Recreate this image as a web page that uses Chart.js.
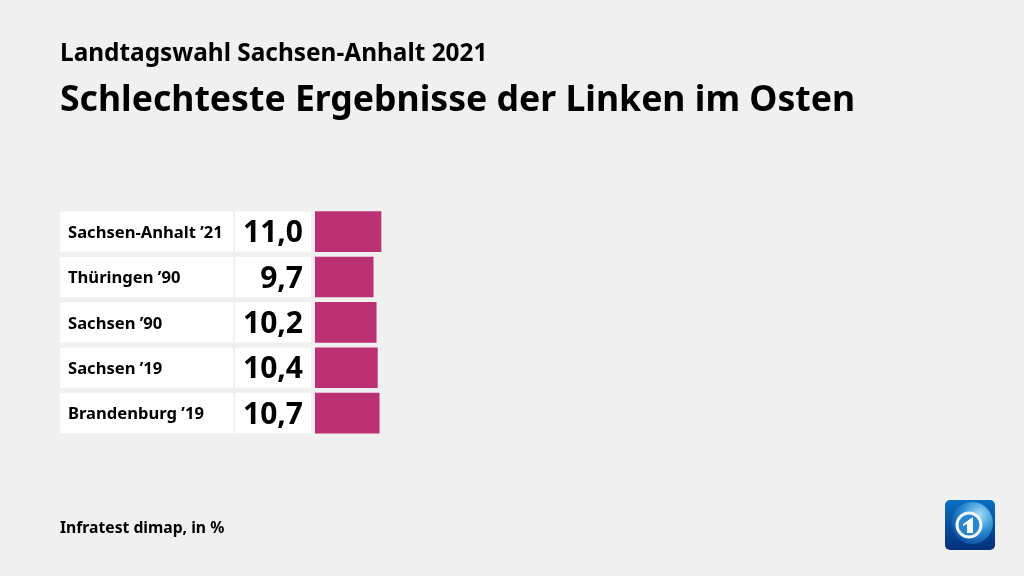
<!DOCTYPE html>
<html><head><meta charset="utf-8">
<style>html,body{margin:0;padding:0;background:#f0f0f0;width:1024px;height:576px;overflow:hidden}
#w{position:absolute;left:0;top:0;width:1024px;height:576px}
#logo{position:absolute;left:945px;top:500px;width:50px;height:50px}</style>
<script src="https://cdn.jsdelivr.net/npm/chart.js@4"></script></head>
<body><div id="w"><canvas id="c" width="1024" height="576"></canvas></div>
<svg id="logo" viewBox="0 0 50 50" aria-hidden="true">
<defs><linearGradient id="bg" x1="0" y1="0" x2="0" y2="1"><stop offset="0" stop-color="#0a6fc4"/><stop offset="1" stop-color="#052f78"/></linearGradient>
<radialGradient id="gl" cx=".68" cy=".3" r=".8"><stop offset="0" stop-color="#a5dcf6"/><stop offset=".5" stop-color="#2a8ed4"/><stop offset="1" stop-color="#0a4a9a"/></radialGradient></defs>
<rect width="50" height="50" rx="5" fill="url(#bg)"/><circle cx="27" cy="23" r="21" fill="url(#gl)"/>
<circle cx="24" cy="25" r="12" fill="#2a86cc" stroke="#f2f7fb" stroke-width="3"/>
<path d="M18 24l10-7v16h-6v-9l-4 2z" fill="#f2f7fb"/></svg>
<script>
const categories=["Sachsen-Anhalt ’21","Thüringen ’90","Sachsen ’90","Sachsen ’19","Brandenburg ’19"];
const values=[11.0,9.7,10.2,10.4,10.7];
const valueLabels=["11,0","9,7","10,2","10,4","10,7"];
const kicker="Landtagswahl Sachsen-Anhalt 2021";
const headline="Schlechteste Ergebnisse der Linken im Osten";
const source="Infratest dimap, in %";
const F="'Noto Sans'";
const rows={id:'rows',
 afterLayout(ch){ch.scales.y.left=68;},
 beforeDraw(ch){const c=ch.ctx,y=ch.scales.y;c.save();c.fillStyle='#fff';
  categories.forEach((_,i)=>{const p=y.getPixelForValue(i);c.fillRect(60,p-20,173,40);c.fillRect(235,p-20,76,40);});c.restore();
  y.getLabelItems(ch.chartArea).forEach(it=>{if(!it.moved){it.options.translation[1]+=1.5;it.moved=true;}});},
 afterDatasetsDraw(ch){const c=ch.ctx,y=ch.scales.y;c.save();c.fillStyle='#000';c.textAlign='right';c.textBaseline='middle';c.font="bold 30px "+F;
  valueLabels.forEach((t,i)=>c.fillText(t,303,y.getPixelForValue(i)+2));
  c.textAlign='left';c.font="bold 15.7px "+F;c.fillText(source,60,529);c.restore();}};
new Chart(document.getElementById('c'),{type:'bar',plugins:[rows],
 data:{labels:categories,datasets:[{data:values,backgroundColor:'#bc3173',barThickness:40}]},
 options:{indexAxis:'y',responsive:false,animation:false,
  layout:{padding:{left:60,right:49,top:0,bottom:140.2}},
  plugins:{legend:{display:false},tooltip:{enabled:false},
   title:{display:true,text:kicker,align:'start',color:'#000',font:{family:F,size:24.4,weight:'bold'},padding:{top:39,bottom:0}},
   subtitle:{display:true,text:headline,align:'start',color:'#000',font:{family:F,size:35.6,weight:'bold'},padding:{top:11,bottom:87}}},
  scales:{x:{display:false,min:0,max:110},
   y:{afterFit(s){s.width=255;},grid:{display:false,drawTicks:false},border:{display:false},
    ticks:{crossAlign:'far',autoSkip:false,color:'#000',font:{family:F,size:16.6,weight:'bold'},padding:0}}}}});
</script></body></html>
